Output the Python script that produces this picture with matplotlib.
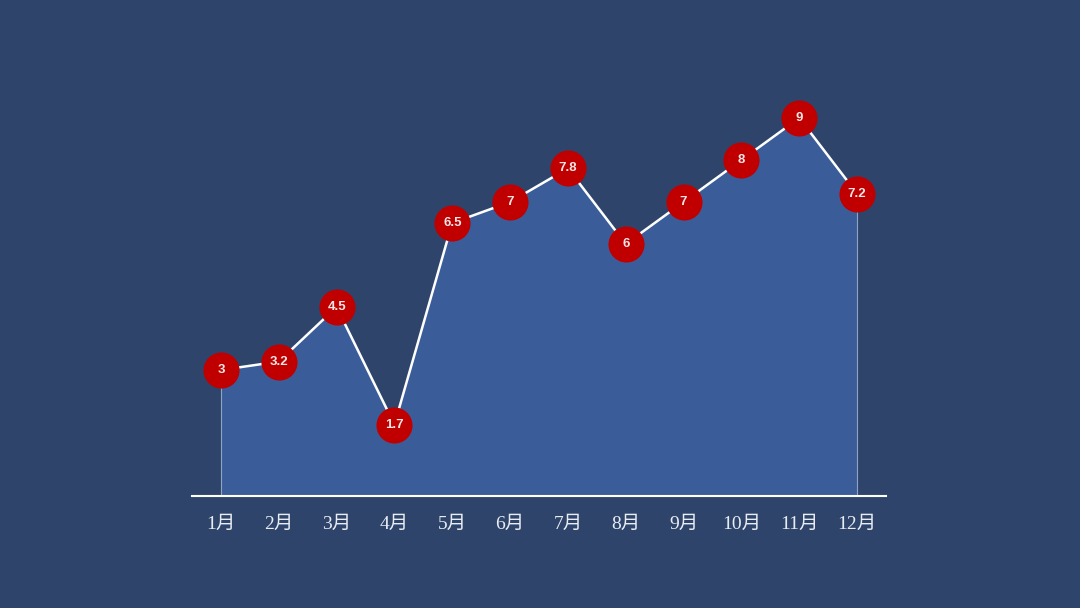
import matplotlib.pyplot as plt
import numpy as np

months = ['1月', '2月', '3月', '4月', '5月', '6月', '7月', '8月', '9月', '10月', '11月', '12月']
values = [3, 3.2, 4.5, 1.7, 6.5, 7, 7.8, 6, 7, 8, 9, 7.2]
labels = ['3', '3.2', '4.5', '1.7', '6.5', '7', '7.8', '6', '7', '8', '9', '7.2']

bg = '#2e446b'
fill_c = '#3a5d9a'
red = '#c00000'

fig = plt.figure(figsize=(10.8, 6.08), dpi=100, facecolor=bg)
ax = fig.add_axes([192 / 1080, 112 / 608, 694 / 1080, 420 / 608])
ax.set_facecolor(bg)

x = np.arange(len(months))
ax.fill_between(x, values, 0, color=fill_c, linewidth=0, zorder=1)
ax.vlines([x[0], x[-1]], 0, [values[0], values[-1]], color='#8fa3c4', linewidth=0.8, zorder=1)
ax.plot(x, values, color='white', linewidth=1.8, zorder=2)
ax.plot(x, values, 'o', markersize=26, color=red, markeredgewidth=0, zorder=3)
for xi, v, t in zip(x, values, labels):
    ax.text(xi, v, t, ha='center', va='center', color='#f4e6e6',
            fontsize=9.5, fontweight='bold', family='Liberation Sans', zorder=4)

ax.set_xlim(-0.5, 11.5)
ax.set_ylim(0, 10)
for s in ['top', 'right', 'left']:
    ax.spines[s].set_visible(False)
ax.spines['bottom'].set_color('white')
ax.spines['bottom'].set_linewidth(1.5)
ax.set_yticks([])
ax.set_xticks(x)
ax.set_xticklabels(months, family=['Liberation Serif', 'Noto Sans CJK SC'],
                   fontsize=14, color='#e8ecf3')
ax.tick_params(axis='x', length=0, pad=14)

fig.savefig('out.png', dpi=100, facecolor=bg)
